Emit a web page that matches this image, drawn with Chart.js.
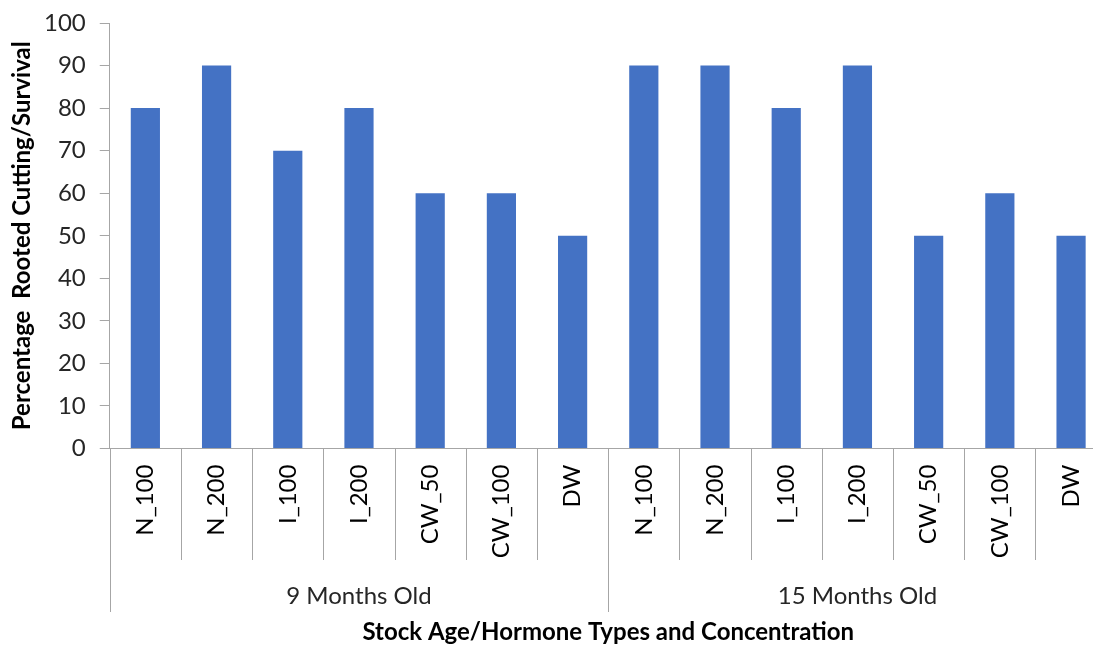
<!DOCTYPE html>
<html>
<head>
<meta charset="utf-8">
<script src="https://cdn.jsdelivr.net/npm/chart.js@4.4.0/dist/chart.umd.min.js"></script>
<style>
  html, body { margin: 0; padding: 0; background: #ffffff; overflow: hidden; }
  #wrap { position: relative; width: 1116px; height: 647px; }
</style>
</head>
<body>
<div id="wrap"><canvas id="c"></canvas></div>
<script>
const groups = ['9 Months Old', '15 Months Old'];
const treatments = ['N_100', 'N_200', 'I_100', 'I_200', 'CW_50', 'CW_100', 'DW'];
const categories = treatments.concat(treatments);
const values9 = [80, 90, 70, 80, 60, 60, 50];
const values15 = [90, 90, 80, 90, 50, 60, 50];
const values = values9.concat(values15);
const yTicks = [0, 10, 20, 30, 40, 50, 60, 70, 80, 90, 100];
const yTitle = 'Percentage  Rooted Cutting/Survival';

const FONT = 'Lato, "Open Sans", sans-serif';
const GRAY = '#a6a6a6';

const groupPlugin = {
  id: 'groupAxis',
  afterDraw(chart) {
    const ctx = chart.ctx;
    const x = chart.scales.x;
    const y = chart.scales.y;
    const n = categories.length;
    const w = (x.right - x.left) / n;
    const y0 = x.top;
    ctx.save();
    ctx.strokeStyle = GRAY;
    ctx.lineWidth = 1;
    const perGroup = treatments.length;
    for (let i = 0; i <= n; i++) {
      const px = Math.round(x.left + i * w) + 0.5;
      const isGroupEdge = (i % perGroup === 0);
      ctx.beginPath();
      ctx.moveTo(px, y0);
      ctx.lineTo(px, isGroupEdge ? 612 : 560);
      ctx.stroke();
    }
    ctx.fillStyle = '#262626';
    ctx.font = '24px ' + FONT;
    ctx.textAlign = 'center';
    ctx.textBaseline = 'middle';
    groups.forEach((g, gi) => {
      const cx = x.left + (gi * perGroup + perGroup / 2) * w;
      ctx.fillText(g, cx, 596);
    });
    // y axis title
    ctx.fillStyle = '#000000';
    ctx.font = 'bold 24px ' + FONT;
    ctx.translate(22, (y.top + y.bottom) / 2);
    ctx.rotate(-Math.PI / 2);
    ctx.fillText(yTitle, 0, 0);
    ctx.restore();
  }
};

new Chart(document.getElementById('c'), {
  type: 'bar',
  data: {
    labels: categories,
    datasets: [{
      data: values,
      backgroundColor: '#4472C4',
      borderWidth: 0,
      categoryPercentage: 1.0,
      barPercentage: 0.41
    }]
  },
  options: {
    responsive: true,
    maintainAspectRatio: false,
    animation: false,
    layout: { padding: { left: 30, top: 1, right: 4, bottom: 0 } },
    plugins: { legend: { display: false }, tooltip: { enabled: false } },
    scales: {
      x: {
        grid: { display: true, drawOnChartArea: false, drawTicks: false, color: 'transparent' },
        border: { display: true, color: GRAY, width: 1 },
        ticks: {
          autoSkip: false, minRotation: 90, maxRotation: 90, padding: 16,
          color: '#000000', font: { family: FONT, size: 24 }
        },
        title: {
          display: true, text: 'Stock Age/Hormone Types and Concentration',
          color: '#000000', font: { family: FONT, size: 24, weight: 'bold' },
          padding: { top: 44, bottom: 0 }
        }
      },
      y: {
        min: 0, max: 100,
        afterBuildTicks(scale) { scale.ticks = yTicks.map(v => ({ value: v })); },
        grid: { display: true, drawOnChartArea: false, drawTicks: true, tickLength: 10, color: GRAY },
        border: { display: true, color: GRAY, width: 1 },
        ticks: { padding: 14, color: '#262626', font: { family: FONT, size: 24, lineHeight: 0.75 } },
        title: { display: false }
      }
    }
  },
  plugins: [groupPlugin]
});
</script>
</body>
</html>
